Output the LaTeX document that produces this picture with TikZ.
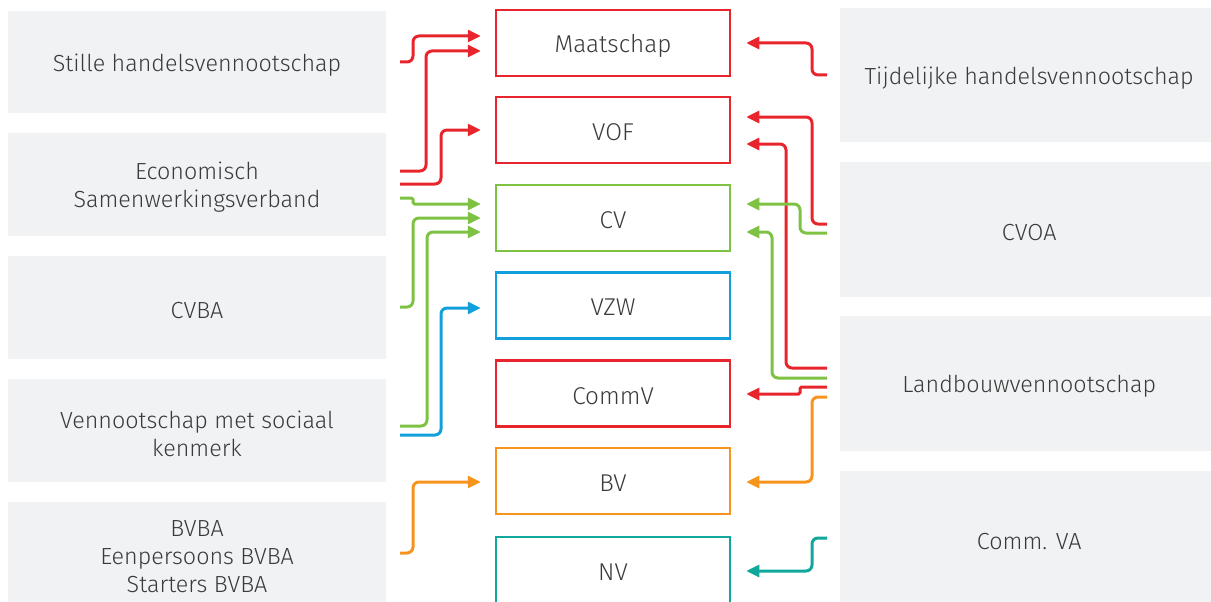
\documentclass[tikz,border=0pt]{standalone}
\usepackage{fontspec}
\IfFontExistsTF{Fira Sans Light}{\setmainfont{Fira Sans Light}}{\setmainfont{Fira Sans}}
\usetikzlibrary{arrows.meta}
\definecolor{cred}{HTML}{E8252C}
\definecolor{cgreen}{HTML}{7DC242}
\definecolor{cblue}{HTML}{12A0DD}
\definecolor{corange}{HTML}{F7941D}
\definecolor{cteal}{HTML}{10A89C}
\definecolor{cgray}{HTML}{F1F2F3}
\definecolor{ctext}{HTML}{3A3A3A}
\tikzset{
  graybox/.style={fill=cgray,draw=none,minimum width=378pt,inner sep=0pt},
  graytext/.style={inner sep=0pt,align=center,text=ctext,font=\fontsize{23.3}{28}\selectfont},
  formbox/.style={fill=white,line width=2.5pt,minimum width=234pt,minimum height=66pt,inner sep=0pt},
  formtext/.style={inner sep=0pt,text=ctext,font=\fontsize{24.3}{28}\selectfont},
  conn/.style={line width=3pt,rounded corners=6pt,-{Triangle[length=13pt,width=12pt]}},
  lconn/.style={conn,shorten <=14pt,shorten >=14pt},
  rconn/.style={conn,shorten <=13pt,shorten >=15pt},
}
\begin{document}
\begin{tikzpicture}[x=1pt,y=-1pt]
\useasboundingbox (0,0) rectangle (1211,602);
% left boxes
\node[graybox,minimum height=102pt] (L1) at (197,62) {};
\node[graybox,minimum height=103pt] (L2) at (197,184.5) {};
\node[graybox,minimum height=103pt] (L3) at (197,307.5) {};
\node[graybox,minimum height=103pt] (L4) at (197,430.5) {};
\node[graybox,minimum height=106pt] (L5) at (197,555) {};
\node[graytext] (tL1) at ([yshift=-3pt]L1.center) {Stille handelsvennootschap};
\node[graytext] (tL2) at ([yshift=-3pt]L2.center) {Economisch\\Samenwerkingsverband};
\node[graytext] (tL3) at ([yshift=-3pt]L3.center) {CVBA};
\node[graytext] (tL4) at ([yshift=-3pt]L4.center) {Vennootschap met sociaal\\kenmerk};
\node[graytext] (tL5) at ([yshift=-2pt]L5.center) {BVBA\\Eenpersoons BVBA\\Starters BVBA};
% right boxes
\node[graybox,minimum height=134pt,anchor=west] (R1) at (840,75) {};
\node[graybox,minimum height=135pt,anchor=west] (R2) at (840,229.5) {};
\node[graybox,minimum height=135pt,anchor=west] (R3) at (840,383.5) {};
\node[graybox,minimum height=136pt,anchor=west] (R4) at (840,539) {};
\node[graytext] (tR1) at ([yshift=-3pt]R1.center) {Tijdelijke handelsvennootschap};
\node[graytext] (tR2) at ([yshift=-3pt]R2.center) {CVOA};
\node[graytext] (tR3) at ([yshift=-3pt]R3.center) {Landbouwvennootschap};
\node[graytext] (tR4) at ([yshift=-3pt]R4.center) {Comm. VA};
% center boxes
\node[formbox,draw=cred] (M) at (613,43) {};
\node[formbox,draw=cred] (VOF) at (613,130) {};
\node[formbox,draw=cgreen] (CV) at (613,218) {};
\node[formbox,draw=cblue] (VZW) at (613,305.5) {};
\node[formbox,draw=cred] (CommV) at (613,393.5) {};
\node[formbox,draw=corange] (BV) at (613,481) {};
\node[formbox,draw=cteal] (NV) at (613,570) {};
\node[formtext] (tM) at ([yshift=-3pt]M.center) {Maatschap};
\node[formtext] (tVOF) at ([yshift=-2pt]VOF.center) {VOF};
\node[formtext] (tCV) at ([yshift=-2pt]CV.center) {CV};
\node[formtext] (tVZW) at ([yshift=-2pt]VZW.center) {VZW};
\node[formtext] (tCommV) at ([yshift=-3pt]CommV.center) {CommV};
\node[formtext] (tBV) at ([yshift=-2pt]BV.center) {BV};
\node[formtext] (tNV) at ([yshift=-2pt]NV.center) {NV};
% left connectors
\draw[lconn,cred] (L1.east |- 0,62) -| (413,36) -- (M.west |- 0,36);
\draw[lconn,cred] (L2.east |- 0,171) -| (426,51) -- (M.west |- 0,51);
\draw[lconn,cred] (L2.east |- 0,184) -| (441,130) -- (VOF.west |- 0,130);
\draw[lconn,cgreen,rounded corners=1.5pt] (L2.east |- 0,198) -| (413,204) -- (CV.west |- 0,204);
\draw[lconn,cgreen] (L3.east |- 0,307) -| (413,218) -- (CV.west |- 0,218);
\draw[lconn,cgreen] (L4.east |- 0,426) -| (427,232) -- (CV.west |- 0,232);
\draw[lconn,cblue] (L4.east |- 0,435) -| (441,308) -- (VZW.west |- 0,308);
\draw[lconn,corange] (L5.east |- 0,553) -| (413,482) -- (BV.west |- 0,482);
% right connectors
\draw[rconn,cred] (R1.west |- 0,75) -| (812,43) -- (M.east |- 0,43);
\draw[rconn,cred] (R2.west |- 0,224) -| (812,117) -- (VOF.east |- 0,117);
\draw[rconn,cred] (R3.west |- 0,368) -| (786,144) -- (VOF.east |- 0,144);
\draw[rconn,cgreen] (R2.west |- 0,233) -| (800,204) -- (CV.east |- 0,204);
\draw[rconn,cgreen] (R3.west |- 0,378) -| (772,232) -- (CV.east |- 0,232);
\draw[rconn,cred,rounded corners=1.5pt] (R3.west |- 0,387) -| (800,394) -- (CommV.east |- 0,394);
\draw[rconn,corange] (R3.west |- 0,397) -| (812,482) -- (BV.east |- 0,482);
\draw[rconn,cteal] (R4.west |- 0,538) -| (812,571) -- (NV.east |- 0,571);
\end{tikzpicture}
\end{document}
